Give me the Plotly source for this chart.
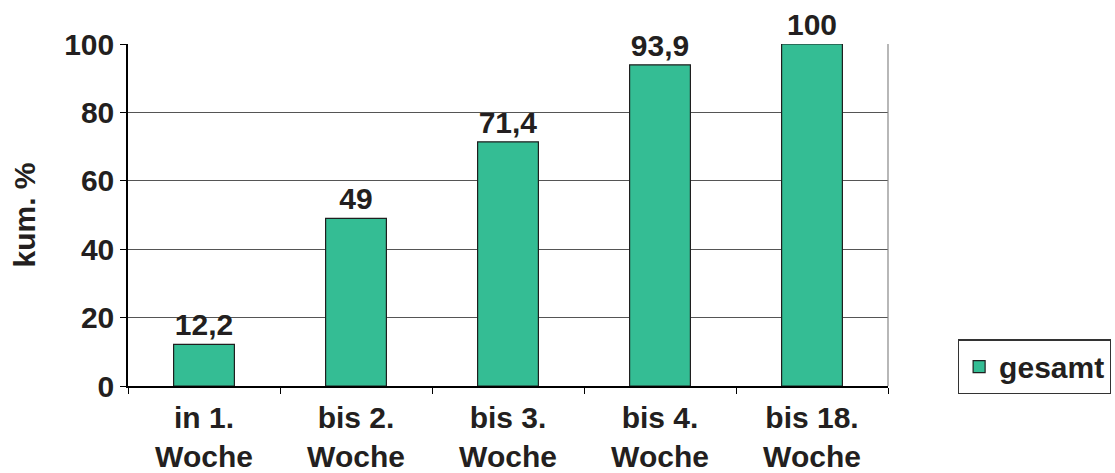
import plotly.graph_objects as go

categories = ["in 1.<br>Woche", "bis 2.<br>Woche", "bis 3.<br>Woche", "bis 4.<br>Woche", "bis 18.<br>Woche"]
values = [12.2, 49, 71.4, 93.9, 100]
labels = ["12,2", "49", "71,4", "93,9", "100"]
series_name = "gesamt"
y_ticks = [0, 20, 40, 60, 80, 100]

font_family = "Liberation Sans, Arial, sans-serif"
dark = "#231f20"
fs = 30

fig = go.Figure()
fig.add_trace(go.Bar(
    x=categories, y=values, name=series_name,
    text=labels, textposition="outside", cliponaxis=False,
    textfont=dict(family=font_family, size=fs, color=dark, weight="bold"),
    marker=dict(color="#34bd94", line=dict(color="#1f1f1f", width=1.2)),
    showlegend=True,
))

fig.update_layout(
    width=1115, height=473,
    margin=dict(l=128, r=227, t=44, b=87, autoexpand=False),
    paper_bgcolor="white", plot_bgcolor="white",
    bargap=0.6,
    font=dict(family=font_family, size=fs, color=dark, weight="bold"),
    showlegend=True,
    legend=dict(
        x=1.092, y=0.056, xanchor="left", yanchor="middle",
        bordercolor="#333333", borderwidth=1.2, bgcolor="white",
        font=dict(family=font_family, size=fs, color=dark, weight="bold"),
        itemwidth=30,
    ),
    xaxis=dict(
        showline=True, linecolor="black", linewidth=1.5,
        ticks="outside", tickson="boundaries", ticklen=6, tickcolor="black",
        tickfont=dict(family=font_family, size=fs, color=dark, weight="bold"),
        ticklabelstandoff=4,
        showgrid=False,
    ),
    yaxis=dict(
        range=[0, 100], tickvals=y_ticks,
        showline=True, linecolor="black", linewidth=1.5,
        ticks="outside", ticklen=6, tickcolor="black",
        showgrid=True, gridcolor="#555555", gridwidth=1,
        zeroline=False,
        tickfont=dict(family=font_family, size=fs, color=dark, weight="bold"),
        title=dict(text="kum. %", standoff=20,
                   font=dict(family=font_family, size=fs, color=dark, weight="bold")),
    ),
    shapes=[dict(type="line", xref="paper", yref="paper", x0=1, x1=1, y0=0, y1=1,
                 line=dict(color="#888888", width=1.2))],
)

fig.write_html(
    "out.html",
    config={"displayModeBar": False},
    post_script="document.body.style.margin='0';document.body.style.padding='0';document.body.style.overflow='hidden';",
)
